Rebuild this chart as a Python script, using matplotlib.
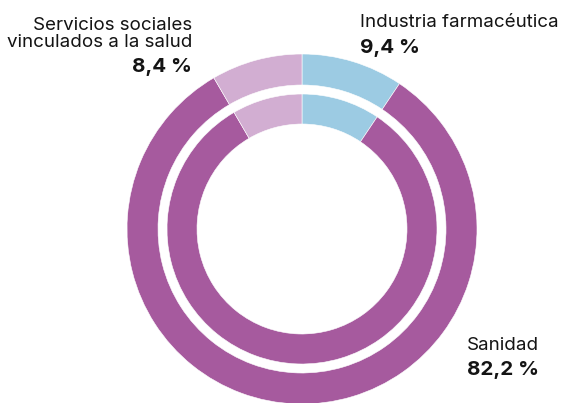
import matplotlib.pyplot as plt

# shares of health-related employment
sectors = ['Industria farmacéutica', 'Sanidad', 'Servicios sociales\nvinculados a la salud']
shares = [9.4, 82.2, 8.4]
colors = ['#9ccbe3', '#a65a9e', '#d2aed2']

W, H = 569, 403
fig = plt.figure(figsize=(W / 100, H / 100), dpi=100)
ax = fig.add_axes([0, 0, 1, 1])

cx, cy = 302, H - 229
# outer ring and inner ring, same split
for r, w in [(175, 31), (135, 30)]:
    ax.pie(shares, colors=colors, startangle=90, counterclock=False,
           radius=r, center=(cx, cy),
           wedgeprops=dict(width=w, edgecolor='white', linewidth=0.4))

ax.set_xlim(0, W)
ax.set_ylim(0, H)
ax.set_aspect('equal')
ax.axis('off')

def pct(v):
    return f'{v:.1f}'.replace('.', ',') + ' %'

fam = ['Inter', 'DejaVu Sans']
txt = dict(family=fam, color='#141414')

# label positions in pixels (top-left origin)
ax.text(192, H - 47, sectors[2], ha='right', va='baseline', fontsize=13.5,
        linespacing=1.0, **txt)
ax.text(192, H - 72, pct(shares[2]), ha='right', va='baseline', fontsize=14.8,
        fontweight='bold', **txt)

ax.text(360, H - 27, sectors[0], ha='left', va='baseline', fontsize=13.5, **txt)
ax.text(360, H - 53, pct(shares[0]), ha='left', va='baseline', fontsize=14.8,
        fontweight='bold', **txt)

ax.text(467, H - 350, sectors[1], ha='left', va='baseline', fontsize=13.5, **txt)
ax.text(467, H - 375, pct(shares[1]), ha='left', va='baseline', fontsize=14.8,
        fontweight='bold', **txt)

fig.savefig('out.png', dpi=100)
